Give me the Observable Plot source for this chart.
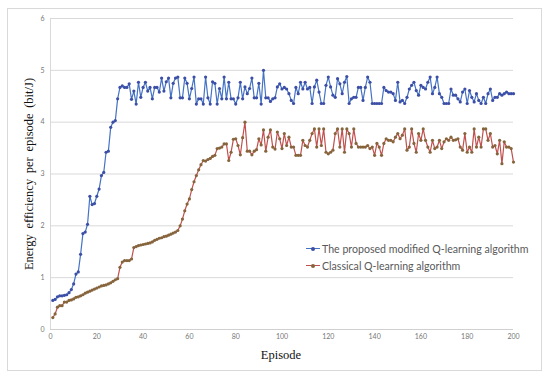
<!DOCTYPE html>
<html>
<head>
<meta charset="utf-8">
<script src="https://cdn.jsdelivr.net/npm/d3@7"></script>
<script src="https://cdn.jsdelivr.net/npm/@observablehq/plot@0.6"></script>
<style>
  html, body { margin: 0; padding: 0; background: #fff; }
  #wrap { position: relative; width: 550px; height: 381px; overflow: hidden; }
  #frame { position: absolute; left: 7px; top: 8px; width: 535px; height: 363px; border: 1px solid #d9d9d9; box-sizing: border-box; pointer-events: none; }
  #chart { position: absolute; left: 0; top: 0; }
  .ttl { position: absolute; font-family: "Liberation Serif", "DejaVu Serif", serif; font-size: 12.5px; color: #111; white-space: nowrap; }
  #ytitle { left: 29px; top: 174px; transform: translate(-50%, -50%) rotate(-90deg); word-spacing: 2.5px; }
  #xtitle { left: 281px; top: 355px; transform: translate(-50%, -50%); }
  #legend { position: absolute; left: 306px; top: 240px; font-family: Lato, "Open Sans", sans-serif; font-size: 10.6px; color: #595959; }
  .li { display: flex; align-items: center; height: 17px; white-space: nowrap; }
  .sw { position: relative; width: 14px; height: 10px; margin-right: 2px; }
  .sw .ln { position: absolute; left: 0; right: 0; top: 4.5px; height: 1.2px; }
  .sw .dt { position: absolute; left: 5px; top: 3px; width: 4px; height: 4px; border-radius: 50%; }
</style>
</head>
<body>
<div id="wrap">
  <div id="chart"></div>
  <div id="frame"></div>
  <div id="ytitle" class="ttl">Energy efficiency per episode (bit/J)</div>
  <div id="xtitle" class="ttl">Episode</div>
  <div id="legend"></div>
</div>
<script>
const seriesNames = ["The proposed modified Q-learning algorithm", "Classical Q-learning algorithm"];
const xTicks = [0, 20, 40, 60, 80, 100, 120, 140, 160, 180, 200];
const yTicks = [0, 1, 2, 3, 4, 5, 6];

// Proposed modified Q-learning (episodes 1..200)
const proposed = [
  0.56, 0.58, 0.63, 0.65, 0.65, 0.66, 0.67, 0.71, 0.77, 0.88,
  1.07, 1.11, 1.45, 1.85, 1.88, 2.03, 2.57, 2.41, 2.43, 2.57,
  2.71, 2.97, 3.03, 3.42, 3.44, 3.90, 4.00, 4.03, 4.45, 4.67,
  4.70, 4.67, 4.67,
  4.74, 4.44, 4.60, 4.35, 4.77, 4.48, 4.67, 4.77, 4.60, 4.67,
  4.45, 4.67, 4.67, 4.58, 4.85, 4.60, 4.78, 4.85, 4.47, 4.75,
  4.85, 4.87, 4.47, 4.47, 4.85, 4.75, 4.45, 4.65, 4.87, 4.35,
  4.45, 4.45, 4.35, 4.87, 4.47, 4.35, 4.78, 4.75, 4.35, 4.65,
  4.45, 4.87, 4.45, 4.77, 4.45, 4.45, 4.35, 4.47, 4.77, 4.45,
  4.68, 4.55, 4.65, 4.85, 4.47, 4.47, 4.75, 4.35, 5.00, 4.47,
  4.47, 4.40, 4.45, 4.47,
  4.68, 4.74, 4.64, 4.67, 4.64, 4.55, 4.42, 4.36, 4.67, 4.55,
  4.77, 4.64, 4.77, 4.64, 4.67, 4.36, 4.68, 4.81, 4.58, 4.36,
  4.36, 4.71, 4.87, 4.68, 4.52, 4.48, 4.84, 4.74, 4.55, 4.77,
  4.88, 4.36, 4.45, 4.48, 4.48, 4.67, 4.67, 4.42, 4.67, 4.87,
  4.77, 4.36, 4.36, 4.36, 4.36, 4.36, 4.67, 4.61, 4.58, 4.58,
  4.55, 4.42, 4.77, 4.39, 4.42, 4.36, 4.48, 4.64, 4.71, 4.77,
  4.61, 4.52, 4.71, 4.67, 4.64, 4.77, 4.87, 4.55, 4.67, 4.87,
  4.55, 4.48, 4.36, 4.36, 4.36, 4.64, 4.52, 4.52, 4.45, 4.39,
  4.58, 4.64, 4.36, 4.61, 4.48, 4.39, 4.55, 4.42, 4.36, 4.48,
  4.36, 4.55, 4.64, 4.42, 4.48, 4.48, 4.55, 4.52, 4.55, 4.58,
  4.55, 4.55, 4.55
];

// Classical Q-learning (episodes 1..200)
const classical = [
  0.23, 0.30, 0.43, 0.46, 0.46, 0.53, 0.53, 0.56, 0.57, 0.59,
  0.62, 0.63, 0.65, 0.67, 0.70, 0.72, 0.74, 0.76, 0.78, 0.80,
  0.82, 0.84, 0.85, 0.86, 0.88, 0.90, 0.93, 0.96, 0.98,
  1.20, 1.30, 1.33, 1.33, 1.33, 1.36, 1.58, 1.60, 1.62, 1.63,
  1.64, 1.65, 1.66, 1.67, 1.69, 1.72, 1.74, 1.76, 1.77, 1.79,
  1.80, 1.82, 1.84, 1.86, 1.88, 1.91, 2.00, 2.13, 2.29, 2.42,
  2.52,
  2.70, 2.85, 2.97, 3.08, 3.18, 3.26, 3.25, 3.28, 3.30, 3.34,
  3.36, 3.49, 3.50, 3.52, 3.58, 3.58, 3.26, 3.42, 3.67, 3.68,
  3.55, 3.37, 3.70, 4.00, 3.44, 3.44, 3.37, 3.44, 3.47, 3.68,
  3.56, 3.85, 3.44, 3.71, 3.85, 3.52, 3.48,
  3.81, 3.68, 3.49, 3.78, 3.55, 3.71, 3.52, 3.52, 3.36, 3.36,
  3.36, 3.65, 3.55, 3.52, 3.65, 3.78, 3.87, 3.52, 3.87, 3.55,
  3.87, 3.42, 3.39, 3.42, 3.46, 3.78, 3.87, 3.52, 3.87, 3.42,
  3.87, 3.78, 3.52, 3.87, 3.59, 3.52, 3.52, 3.52, 3.52, 3.55,
  3.49, 3.52, 3.36, 3.59, 3.52, 3.36, 3.59, 3.68, 3.65, 3.65,
  3.62, 3.71, 3.78, 3.68, 3.75, 3.87, 3.46, 3.52, 3.87, 3.59,
  3.42, 3.78, 3.65, 3.87, 3.65, 3.52, 3.42, 3.65, 3.49, 3.52,
  3.65, 3.49, 3.62, 3.68, 3.65, 3.71, 3.65, 3.66, 3.68, 3.52,
  3.46, 3.78, 3.42, 3.52, 3.42, 3.87, 3.52, 3.71, 3.52, 3.87,
  3.87, 3.65, 3.78, 3.52, 3.55, 3.39, 3.65, 3.20, 3.62, 3.52,
  3.52, 3.49, 3.23
];

const lineColors = ["#4472c4", "#c0504d"];
const dotColors = ["#3c4fa6", "#86643c"];

const data = [
  ...proposed.map((v, i) => ({episode: i + 1, value: v, series: seriesNames[0]})),
  ...classical.map((v, i) => ({episode: i + 1, value: v, series: seriesNames[1]}))
];

const chart = Plot.plot({
  width: 550,
  height: 381,
  marginLeft: 50,
  marginRight: 37,
  marginTop: 18,
  marginBottom: 52,
  style: {fontFamily: "Lato, 'Open Sans', sans-serif", background: "transparent"},
  x: {domain: [0, 200]},
  y: {domain: [0, 6]},
  color: {domain: seriesNames, range: lineColors},
  marks: [
    Plot.gridY(yTicks.slice(1), {stroke: "#d9d9d9", strokeOpacity: 1}),
    Plot.ruleY([0], {stroke: "#d0d0d0"}),
    Plot.ruleX([0], {stroke: "#d9d9d9"}),
    Plot.axisX({ticks: xTicks, tickFormat: d3.format("d"), tickSize: 0, tickPadding: 5, fontSize: 7, fill: "#777", label: null}),
    Plot.axisY({ticks: yTicks, tickFormat: d3.format("d"), tickSize: 0, tickPadding: 6, fontSize: 7, fill: "#777", label: null}),
    Plot.line(data, {x: "episode", y: "value", z: "series", stroke: "series", strokeWidth: 1.2}),
    Plot.dot(data, {x: "episode", y: "value", r: 1.6, fill: d => d.series === seriesNames[0] ? dotColors[0] : dotColors[1], stroke: "none"})
  ]
});
document.getElementById("chart").appendChild(chart);

const legend = document.getElementById("legend");
seriesNames.forEach((name, i) => {
  const row = document.createElement("div");
  row.className = "li";
  row.innerHTML = `<span class="sw"><span class="ln" style="background:${lineColors[i]}"></span><span class="dt" style="background:${dotColors[i]}"></span></span><span>${name}</span>`;
  legend.appendChild(row);
});
</script>
</body>
</html>
